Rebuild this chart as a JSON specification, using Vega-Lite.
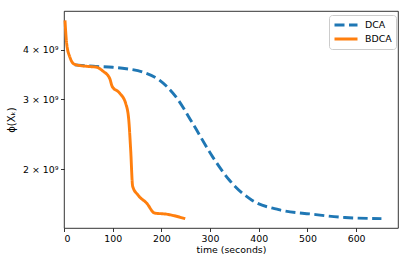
{
  "$schema": "https://vega.github.io/schema/vega-lite/v6.json",
  "autosize": "none",
  "width": 334,
  "height": 217,
  "padding": {"left": 64, "top": 11, "right": 12, "bottom": 38},
  "background": "white",
  "config": {
    "font": "DejaVu Sans",
    "view": {"stroke": "black", "strokeWidth": 0.8},
    "axis": {
      "grid": false,
      "domain": false,
      "tickColor": "black",
      "tickWidth": 0.8,
      "tickSize": 3.5,
      "labelColor": "black",
      "labelFontSize": 9.4,
      "labelFont": "DejaVu Sans",
      "titleFont": "DejaVu Sans",
      "titleFontSize": 9.4,
      "titleFontWeight": "normal",
      "titleColor": "black",
      "labelPadding": 2.5
    }
  },
  "data": {
    "values": [
      {"method": "DCA", "t": 22, "phi": 3.66e9},
      {"method": "DCA", "t": 60, "phi": 3.63e9},
      {"method": "DCA", "t": 100, "phi": 3.61e9},
      {"method": "DCA", "t": 128, "phi": 3.58e9},
      {"method": "DCA", "t": 162, "phi": 3.51e9},
      {"method": "DCA", "t": 196, "phi": 3.35e9},
      {"method": "DCA", "t": 230, "phi": 3.04e9},
      {"method": "DCA", "t": 264, "phi": 2.61e9},
      {"method": "DCA", "t": 305, "phi": 2.15e9},
      {"method": "DCA", "t": 339, "phi": 1.88e9},
      {"method": "DCA", "t": 386, "phi": 1.67e9},
      {"method": "DCA", "t": 441, "phi": 1.58e9},
      {"method": "DCA", "t": 509, "phi": 1.54e9},
      {"method": "DCA", "t": 577, "phi": 1.51e9},
      {"method": "DCA", "t": 652, "phi": 1.50e9},
      {"method": "BDCA", "t": 2, "phi": 4.74e9},
      {"method": "BDCA", "t": 5.5, "phi": 4.14e9},
      {"method": "BDCA", "t": 12, "phi": 3.83e9},
      {"method": "BDCA", "t": 22, "phi": 3.67e9},
      {"method": "BDCA", "t": 46, "phi": 3.63e9},
      {"method": "BDCA", "t": 67, "phi": 3.61e9},
      {"method": "BDCA", "t": 80, "phi": 3.53e9},
      {"method": "BDCA", "t": 94, "phi": 3.38e9},
      {"method": "BDCA", "t": 99, "phi": 3.23e9},
      {"method": "BDCA", "t": 114, "phi": 3.11e9},
      {"method": "BDCA", "t": 127, "phi": 2.92e9},
      {"method": "BDCA", "t": 133, "phi": 2.66e9},
      {"method": "BDCA", "t": 137, "phi": 2.23e9},
      {"method": "BDCA", "t": 141, "phi": 1.81e9},
      {"method": "BDCA", "t": 152, "phi": 1.72e9},
      {"method": "BDCA", "t": 170, "phi": 1.64e9},
      {"method": "BDCA", "t": 186, "phi": 1.55e9},
      {"method": "BDCA", "t": 210, "phi": 1.54e9},
      {"method": "BDCA", "t": 249, "phi": 1.50e9}
    ]
  },
  "mark": {"type": "line", "strokeWidth": 2.9, "interpolate": "monotone", "strokeCap": "butt"},
  "encoding": {
    "x": {
      "field": "t", "type": "quantitative",
      "scale": {"domain": [0, 686], "nice": false, "zero": false},
      "axis": {"values": [0, 100, 200, 300, 400, 500, 600], "title": "time (seconds)", "titlePadding": 3}
    },
    "y": {
      "field": "phi", "type": "quantitative",
      "scale": {"type": "log", "domain": [1.421e9, 5.003e9], "nice": false},
      "axis": {
        "values": [2e9, 3e9, 4e9],
        "labelExpr": "format(datum.value/1e9, 'd') + ' × 10⁹'",
        "title": "ϕ(Xₖ)",
        "titleFontSize": 10,
        "titlePadding": 6
      }
    },
    "color": {
      "field": "method", "type": "nominal",
      "scale": {"domain": ["DCA", "BDCA"], "range": ["#1f77b4", "#ff7f0e"]},
      "legend": {
        "title": null,
        "orient": "none",
        "legendX": 265,
        "legendY": 4,
        "symbolType": "stroke",
        "symbolSize": 529,
        "symbolStrokeWidth": 3,
        "labelFontSize": 9.4,
        "labelColor": "black",
        "labelFont": "DejaVu Sans",
        "strokeColor": "#cccccc",
        "fillColor": "white",
        "cornerRadius": 3,
        "padding": 4,
        "rowPadding": 2,
        "clipHeight": 12,
        "labelOffset": 6
      }
    },
    "strokeDash": {
      "field": "method", "type": "nominal",
      "scale": {"domain": ["DCA", "BDCA"], "range": [[10, 4.5], [1, 0]]},
      "legend": null
    }
  }
}
